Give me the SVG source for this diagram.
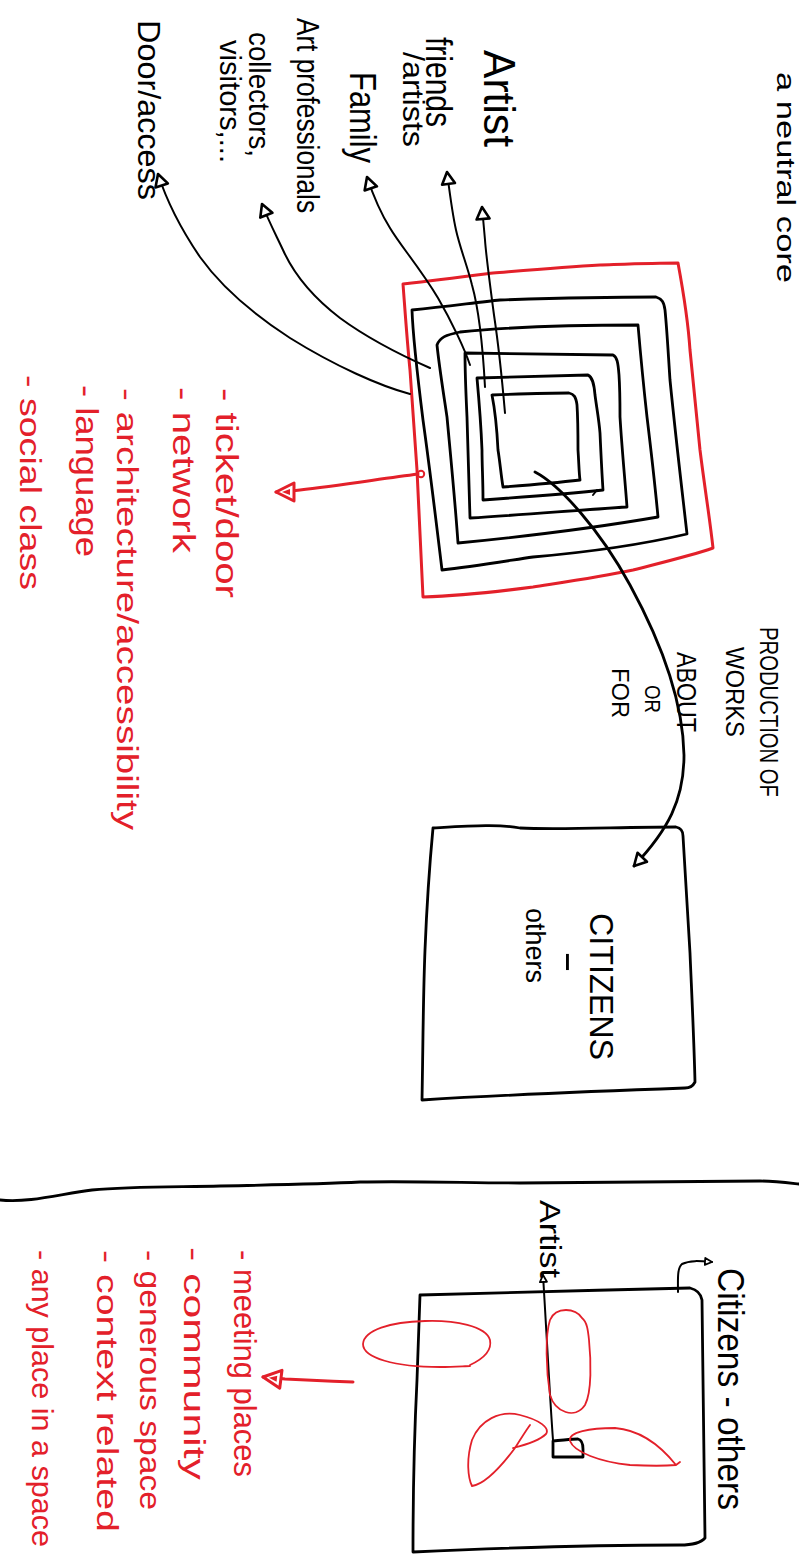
<svg xmlns="http://www.w3.org/2000/svg" width="799" height="1562" viewBox="0 0 799 1562">
  <defs>
    <style>
      .ink { fill: none; stroke: #000; stroke-width: 2.8; stroke-linecap: round; stroke-linejoin: round; }
      .thin { fill: none; stroke: #000; stroke-width: 2; stroke-linecap: round; stroke-linejoin: round; }
      .redline { fill: none; stroke: #e3202a; stroke-width: 3; stroke-linecap: round; stroke-linejoin: round; }
      .redthin { fill: none; stroke: #e3202a; stroke-width: 1.8; stroke-linecap: round; stroke-linejoin: round; }
      .t { font-family: "Liberation Sans", Arial, sans-serif; fill: #000; }
      .tr { font-family: "Liberation Sans", Arial, sans-serif; fill: #e3202a; }
    </style>
    <marker id="head" markerUnits="userSpaceOnUse" viewBox="0 0 18 18" refX="15" refY="9" markerWidth="18" markerHeight="18" orient="auto">
      <path d="M3,2.5 L15,9 L3,15.5 Z" fill="#fff" stroke="#000" stroke-width="2.6" stroke-linejoin="round"/>
    </marker>
    <marker id="headRed" markerUnits="userSpaceOnUse" viewBox="0 0 24 24" refX="21" refY="12" markerWidth="24" markerHeight="24" orient="auto">
      <path d="M3,3 L21,12 L3,21 Z" fill="#fff" stroke="#e3202a" stroke-width="3" stroke-linejoin="round"/>
      <path d="M7,9 L15,12 L7,15 Z" fill="#e3202a"/>
    </marker>
    <marker id="headSmall" markerUnits="userSpaceOnUse" viewBox="0 0 10 10" refX="8" refY="5" markerWidth="10" markerHeight="10" orient="auto">
      <path d="M1,1.5 L8,5 L1,8.5 Z" fill="#fff" stroke="#000" stroke-width="1.8" stroke-linejoin="round"/>
    </marker>
  </defs>

  <rect width="799" height="1562" fill="#fff"/>

  <!-- Upper part: the studio as concentric layers -->
  <g id="core-title">
    <text class="t" font-size="26" transform="translate(777,72) rotate(90)" textLength="211" lengthAdjust="spacingAndGlyphs">a neutral core</text>
  </g>

  <g id="outer-boundary">
    <path class="redline" d="M403,284 C440,280 470,276 493,273 C530,270 565,267 600,265 C630,264 655,263 678,263 C683,290 688,320 690,350 C694,390 697,420 700,450 C705,490 710,520 713,548 C690,556 660,563 633,570 C600,577 565,582 533,587 C495,592 455,596 423,597 C421,560 419,520 417,470 C414,430 412,400 410,370 C407,340 405,310 403,284 Z"/>
    <circle cx="421" cy="474" r="3.2" fill="none" stroke="#e3202a" stroke-width="2"/>
  </g>

  <g id="layers">
    <path class="ink" d="M412,310 C450,306 480,302 500,300 C560,298 610,297 656,297 C662,299 664,302 665,310 C667,330 668,350 670,380 C676,440 682,490 687,534 C640,545 590,552 533,557 C500,562 470,567 442,570 C436,520 430,470 423,420 C418,380 413,340 412,310 Z"/>
    <path class="ink" d="M437,345 C440,337 446,335 460,332 C520,326 580,325 638,325 C641,360 644,390 647,417 C651,450 655,485 658,517 C600,527 530,536 458,543 C455,500 451,460 447,417 C443,390 439,365 437,345 Z"/>
    <path class="ink" d="M465,353 C520,354 570,354 613,355 C617,357 618,362 619,375 C620,390 620,405 620,417 C622,450 625,480 627,507 C580,510 520,515 470,518 C469,480 468,445 467,417 C466,395 465,375 465,353 Z"/>
    <path class="ink" d="M477,378 C520,377 560,376 588,375 C592,377 594,382 595,395 C597,410 599,420 600,433 C601,455 602,475 603,490 C565,494 525,497 483,500 C483,480 482,465 482,450 C481,425 479,400 477,378 Z"/>
    <path class="ink" d="M492,395 C520,394 548,393 569,393 C574,394 576,397 577,405 C578,420 578,435 578,450 C579,465 579,473 580,480 C555,483 530,485 503,487 C501,475 500,462 498,450 C497,430 495,410 492,395 Z"/>
    <path class="thin" d="M593,495 L597,490" stroke-width="1.5"/>
  </g>

  <g id="label-artist">
    <text class="t" font-size="44" transform="translate(484,50) rotate(90)" textLength="97" lengthAdjust="spacingAndGlyphs">Artist</text>
  </g>
  <g id="label-friends">
    <text class="t" font-size="36" transform="translate(426,37) rotate(90)" textLength="90" lengthAdjust="spacingAndGlyphs">friends</text>
    <text class="t" font-size="30" transform="translate(403,52) rotate(90)" textLength="95" lengthAdjust="spacingAndGlyphs">/artists</text>
  </g>
  <g id="label-family">
    <text class="t" font-size="36" transform="translate(350,72) rotate(90)" textLength="91" lengthAdjust="spacingAndGlyphs">Family</text>
  </g>
  <g id="label-public">
    <text class="t" font-size="32" transform="translate(297,18) rotate(90)" textLength="195" lengthAdjust="spacingAndGlyphs">Art professionals</text>
    <text class="t" font-size="30" transform="translate(249,32) rotate(90)" textLength="125" lengthAdjust="spacingAndGlyphs">collectors,</text>
    <text class="t" font-size="30" transform="translate(220,40) rotate(90)" textLength="123" lengthAdjust="spacingAndGlyphs">visitors,...</text>
  </g>
  <g id="label-door">
    <text class="t" font-size="31" transform="translate(138,20) rotate(90)" textLength="180" lengthAdjust="spacingAndGlyphs">Door/access</text>
  </g>

  <g id="barriers">
    <text class="tr" font-size="32" transform="translate(216,388) rotate(90)" textLength="210" lengthAdjust="spacingAndGlyphs">- ticket/door</text>
    <text class="tr" font-size="32" transform="translate(173,387) rotate(90)" textLength="166" lengthAdjust="spacingAndGlyphs">- network</text>
    <text class="tr" font-size="30" transform="translate(117,388) rotate(90)" textLength="442" lengthAdjust="spacingAndGlyphs">- architecture/accessibility</text>
    <text class="tr" font-size="32" transform="translate(76,385) rotate(90)" textLength="172" lengthAdjust="spacingAndGlyphs">- language</text>
    <text class="tr" font-size="30" transform="translate(20,375) rotate(90)" textLength="215" lengthAdjust="spacingAndGlyphs">- social class</text>
  </g>

  <g id="label-production">
    <text class="t" font-size="26" transform="translate(760,627) rotate(90)" textLength="170" lengthAdjust="spacingAndGlyphs">PRODUCTION OF</text>
    <text class="t" font-size="26" transform="translate(726,647) rotate(90)" textLength="90" lengthAdjust="spacingAndGlyphs">WORKS</text>
    <text class="t" font-size="28" transform="translate(677,652) rotate(90)" textLength="80" lengthAdjust="spacingAndGlyphs">ABOUT</text>
    <text class="t" font-size="22" transform="translate(645,685) rotate(90)" textLength="28" lengthAdjust="spacingAndGlyphs">OR</text>
    <text class="t" font-size="24" transform="translate(612,668) rotate(90)" textLength="50" lengthAdjust="spacingAndGlyphs">FOR</text>
  </g>

  <g id="citizens-box">
    <path class="ink" d="M433,828 C470,826 500,824 520,828 C560,830 620,827 676,827 C681,828 683,831 683,836 C686,880 688,920 690,953 C692,1000 694,1040 695,1082 C693,1086 690,1088 685,1088 C600,1091 520,1094 422,1100 C423,1050 423,1000 425,950 C427,900 430,860 433,828 Z"/>
    <text class="t" font-size="34" transform="translate(590,913) rotate(90)" textLength="147" lengthAdjust="spacingAndGlyphs">CITIZENS</text>
    <text class="t" font-size="36" transform="translate(558,951) rotate(90)" textLength="22" lengthAdjust="spacingAndGlyphs">-</text>
    <text class="t" font-size="28" transform="translate(526,908) rotate(90)" textLength="75" lengthAdjust="spacingAndGlyphs">others</text>
  </g>

  <g id="connectors">
    <path class="thin" d="M505,413 C503,390 500,355 494,315 C490,285 486,255 485,240 C484,228 483,218 482,207" marker-end="url(#head)"/>
    <path class="thin" d="M485,387 C483,350 479,310 472,285 C467,265 460,248 456,230 C452,212 450,195 447,172" marker-end="url(#head)"/>
    <path class="thin" d="M470,365 C465,350 452,322 438,298 C420,268 400,245 390,228 C380,212 374,198 367,177" marker-end="url(#head)"/>
    <path class="thin" d="M430,368 C405,357 370,340 340,318 C310,295 292,270 283,250 C276,235 269,222 262,204" marker-end="url(#head)"/>
    <path class="thin" d="M410,394 C380,386 335,366 290,338 C250,312 220,285 200,257 C185,235 168,205 158,174" marker-end="url(#head)"/>
    <path class="ink" d="M535,472 C560,485 600,530 630,585 C660,640 683,700 684,755 C684,800 668,830 634,866" marker-end="url(#head)"/>
    <path class="redline" d="M418,474 C380,479 335,486 300,490 C292,491 285,492 276,492" marker-end="url(#headRed)"/>
    <path class="redline" d="M353,1382 C330,1381 305,1380 285,1379 C278,1378 271,1378 263,1377" marker-end="url(#headRed)"/>
    <path class="thin" d="M678,1292 C678,1280 677,1268 682,1264 C690,1260 700,1261 712,1262" marker-end="url(#headSmall)"/>
    <path class="thin" d="M553,1440 C550,1400 547,1340 543,1275" marker-end="url(#headSmall)"/>
  </g>

  <g id="divider">
    <path class="ink" d="M0,1200 C30,1203 60,1194 92,1190 C130,1186 180,1187 220,1186 C270,1185 320,1184 360,1182 C420,1181 470,1183 520,1183 C600,1183 680,1181 760,1181 C775,1181 790,1183 799,1184"/>
  </g>

  <!-- Lower part: the studio opened into the city -->
  <g id="open-space">
    <path class="ink" d="M420,1295 C500,1293 600,1290 690,1288 C698,1290 701,1294 702,1300 C703,1380 704,1460 705,1538 C700,1544 690,1545 680,1545 C600,1545 500,1548 413,1552 C413,1480 415,1420 417,1380 C418,1350 419,1320 420,1295 Z"/>
    <path class="ink" d="M553,1457 L553,1441 C565,1440 572,1439 578,1439 C582,1440 583,1444 583,1449 L583,1457 L553,1457" stroke-width="2.4"/>
    <path class="redthin" d="M470,1365 C485,1358 492,1350 490,1340 C486,1326 455,1320 425,1321 C390,1322 364,1330 363,1344 C363,1358 395,1367 440,1367 C455,1367 465,1366 470,1366"/>
    <path class="redthin" d="M582,1318 C576,1308 556,1306 550,1320 C545,1335 546,1370 550,1395 C555,1412 575,1420 585,1405 C592,1392 591,1360 589,1340 C588,1330 587,1322 582,1318" stroke-width="2"/>
    <path class="redthin" d="M513,1448 C525,1445 540,1440 546,1434 C550,1428 540,1420 520,1415 C500,1410 480,1420 472,1440 C466,1460 468,1478 472,1486 C485,1484 500,1468 515,1448 C520,1440 525,1432 530,1425" stroke-width="2.2"/>
    <path class="redthin" d="M676,1465 C660,1445 640,1430 615,1428 C590,1428 568,1432 570,1441 C574,1452 600,1462 630,1465 C650,1466 665,1466 676,1465 L680,1462"/>
  </g>

  <g id="lower-labels">
    <text class="t" font-size="30" transform="translate(540,1200) rotate(90)" textLength="78" lengthAdjust="spacingAndGlyphs">Artist</text>
    <text class="t" font-size="36" transform="translate(718,1268) rotate(90)" textLength="242" lengthAdjust="spacingAndGlyphs">Citizens - others</text>
  </g>

  <g id="qualities">
    <text class="tr" font-size="32" transform="translate(234,1250) rotate(90)" textLength="227" lengthAdjust="spacingAndGlyphs">- meeting places</text>
    <text class="tr" font-size="30" transform="translate(184,1247) rotate(90)" textLength="233" lengthAdjust="spacingAndGlyphs">- community</text>
    <text class="tr" font-size="30" transform="translate(140,1250) rotate(90)" textLength="260" lengthAdjust="spacingAndGlyphs">- generous space</text>
    <text class="tr" font-size="30" transform="translate(97,1250) rotate(90)" textLength="282" lengthAdjust="spacingAndGlyphs">- context related</text>
    <text class="tr" font-size="30" transform="translate(32,1250) rotate(90)" textLength="297" lengthAdjust="spacingAndGlyphs">- any place in a space</text>
  </g>
</svg>
